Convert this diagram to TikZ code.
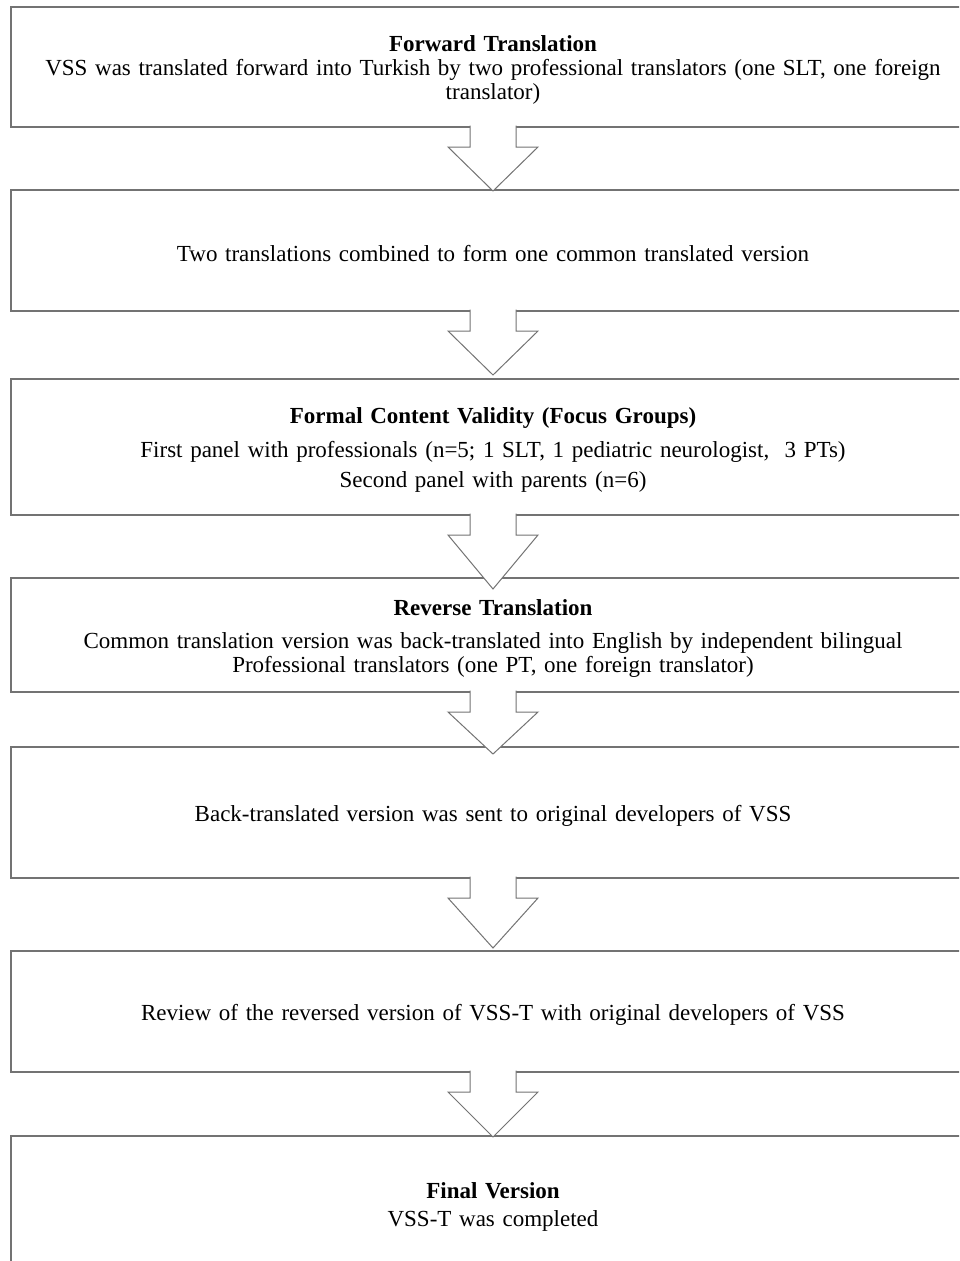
\documentclass[tikz,border=0pt]{standalone}
\usepackage{fontspec}
\setmainfont{Liberation Serif}
\usetikzlibrary{positioning,calc}
\definecolor{linegray}{RGB}{115,115,115}

\tikzset{
	stepbox/.style={rectangle, draw=linegray, line width=1.4pt, inner sep=0pt, outer sep=0pt,
		minimum width=964pt, text width=950pt, align=center, anchor=north,
		font=\fontsize{23}{24}\selectfont, execute at begin node={\rule{0pt}{22pt}}},
	arrowline/.style={draw=linegray, line width=1pt, fill=white, line join=miter}
}

% block arrow from the bottom of #2 to the top of #3, tip moved by #1
\newcommand{\flowarrow}[3][0]{%
	\draw[arrowline] ($(#2.south)+(-23,-1.5)$) |- ++(-22,21.5) -- ($(#3.north)+(0,#1)$)
		-- ($(#2.south)+(45,20)$) -| ($(#2.south)+(23,-1.5)$);
}

\begin{document}
\begin{tikzpicture}[x=1pt,y=-1pt]
			
			\useasboundingbox (0,0) rectangle (959,1261);
			\clip (0,0) rectangle (959,1261);
			
			% Define nodes
			\node[stepbox, minimum height=120pt] at (493,7) (fwd) {\textbf{Forward Translation}\\ VSS was translated forward into Turkish by two professional translators (one SLT, one foreign\\ translator)};
			\node[stepbox, minimum height=121pt, below=63pt of fwd] (comb) {Two translations combined to form one common translated version};
			\node[stepbox, minimum height=136pt, below=68pt of comb] (valid) {\textbf{Formal Content Validity (Focus Groups)}\\[10pt] First panel with professionals (n=5; 1 SLT, 1 pediatric neurologist,\ \ 3 PTs)\\[6pt] Second panel with parents (n=6)};
			\node[stepbox, minimum height=114pt, below=63pt of valid] (rev) {\textbf{Reverse Translation}\\[9pt] Common translation version was back-translated into English by independent bilingual\\ Professional translators (one PT, one foreign translator)};
			\node[stepbox, minimum height=131pt, below=55pt of rev] (sent) {Back-translated version was sent to original developers of VSS};
			\node[stepbox, minimum height=121pt, below=73pt of sent] (review) {Review of the reversed version of VSS-T with original developers of VSS};
			\node[stepbox, minimum height=136pt, below=64pt of review] (final) {\textbf{Final Version}\\[4pt] VSS-T was completed};
			
			% Connect the nodes
			\flowarrow[1]{fwd}{comb}
			\flowarrow[-4]{comb}{valid}
			\flowarrow[11]{valid}{rev}
			\flowarrow[7]{rev}{sent}
			\flowarrow[-3]{sent}{review}
			\flowarrow[1]{review}{final}
			
\end{tikzpicture}
\end{document}
